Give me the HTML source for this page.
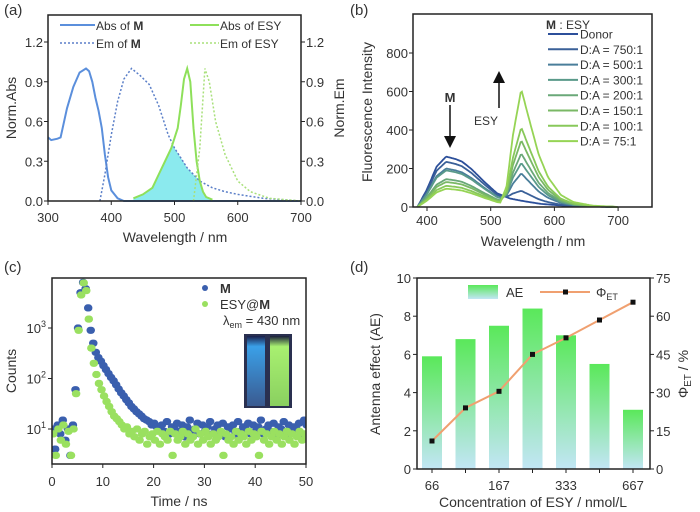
<!DOCTYPE html>
<html><head><meta charset="utf-8"><style>
html,body{margin:0;padding:0;background:#fff}
svg{display:block;font-family:"Liberation Sans",Arial,sans-serif}
text{fill:#333}
</style></head><body>
<svg id="fig" width="700" height="512" viewBox="0 0 700 512" xmlns="http://www.w3.org/2000/svg">
<defs>
<linearGradient id="barg" x1="0" y1="0" x2="0" y2="1"><stop offset="0" stop-color="#5ae85a"/><stop offset="1" stop-color="#c2e6f5"/></linearGradient>
<linearGradient id="vialB" x1="0" y1="0" x2="0" y2="1"><stop offset="0" stop-color="#1a1e4a"/><stop offset="0.15" stop-color="#3aa0e8"/><stop offset="1" stop-color="#3a5a90"/></linearGradient>
<linearGradient id="vialG" x1="0" y1="0" x2="0" y2="1"><stop offset="0" stop-color="#1a1e3a"/><stop offset="0.15" stop-color="#a8f070"/><stop offset="1" stop-color="#8ad060"/></linearGradient>
<clipPath id="clipC"><rect x="52" y="278" width="254" height="186"/></clipPath>
</defs>
<text x="4" y="15" font-size="15">(a)</text>
<text x="350" y="15" font-size="15">(b)</text>
<text x="4" y="272" font-size="15">(c)</text>
<text x="350" y="272" font-size="15">(d)</text>
<g id="layer"></g>
<rect x="48" y="15" width="253" height="186" fill="none" stroke="#222" stroke-width="1.5"/>
<rect x="413" y="14" width="239" height="193" fill="none" stroke="#222" stroke-width="1.5"/>
<rect x="52" y="278" width="254" height="186" fill="none" stroke="#222" stroke-width="1.5"/>
<rect x="417" y="278" width="233" height="191" fill="none" stroke="#222" stroke-width="1.5"/>
<text x="175" y="242" font-size="14" text-anchor="middle">Wavelength / nm</text>
<text transform="translate(16,108) rotate(-90)" font-size="14" text-anchor="middle">Norm.Abs</text>
<text transform="translate(344,108) rotate(-90)" font-size="14" text-anchor="middle">Norm.Em</text>
<text x="533" y="246" font-size="14" text-anchor="middle">Wavelength / nm</text>
<text transform="translate(372,112) rotate(-90)" font-size="14" text-anchor="middle">Fluorescence Intensity</text>
<text x="179" y="506" font-size="14" text-anchor="middle">Time / ns</text>
<text transform="translate(16,371) rotate(-90)" font-size="14" text-anchor="middle">Counts</text>
<text x="533" y="507" font-size="14" text-anchor="middle">Concentration of ESY / nmol/L</text>
<text transform="translate(380,374) rotate(-90)" font-size="14" text-anchor="middle">Antenna effect (AE)</text>
<text transform="translate(688,374) rotate(-90)" font-size="14" text-anchor="middle">Φ<tspan font-size="10" dy="3">ET</tspan><tspan dy="-3"> / %</tspan></text>
<g>
<line x1="60" y1="25" x2="95" y2="25" stroke="#5b8fdc" stroke-width="2"/><text x="96" y="30" font-size="12">Abs of <tspan font-weight="bold">M</tspan></text>
<line x1="60" y1="43" x2="95" y2="43" stroke="#5b7fc8" stroke-width="1.5" stroke-dasharray="2,2"/><text x="96" y="48" font-size="12">Em of <tspan font-weight="bold">M</tspan></text>
<line x1="190" y1="25" x2="219" y2="25" stroke="#8ee05a" stroke-width="2"/><text x="220" y="30" font-size="12">Abs of ESY</text>
<line x1="190" y1="43" x2="219" y2="43" stroke="#a8e07a" stroke-width="1.5" stroke-dasharray="2,2"/><text x="220" y="48" font-size="12">Em of  ESY</text>
</g>
<text x="546" y="29" font-size="12"><tspan font-weight="bold">M</tspan> : ESY</text>
<text x="450" y="102" font-size="13" font-weight="bold" text-anchor="middle">M</text>
<line x1="450" y1="105" x2="450" y2="138" stroke="#111" stroke-width="1.5"/>
<polygon points="444,136 456,136 450,148" fill="#111"/>
<line x1="499" y1="108" x2="499" y2="80" stroke="#111" stroke-width="1.5"/>
<polygon points="493,83 505,83 499,71" fill="#111"/>
<text x="486" y="125" font-size="12" text-anchor="middle">ESY</text>
<g id="layerTop"></g>
<g>
<circle cx="205" cy="288" r="3" fill="#3a5fae"/><text x="220" y="293" font-size="13" font-weight="bold">M</text>
<circle cx="205" cy="304" r="3" fill="#9ae060"/><text x="220" y="309" font-size="13">ESY@<tspan font-weight="bold">M</tspan></text>
<text x="223" y="325" font-size="13">λ<tspan font-size="9" dy="3">em</tspan><tspan dy="-3"> = 430 nm</tspan></text>
</g>
<g>
<rect x="244" y="334" width="48" height="74" fill="#2a3050"/>
<rect x="247" y="336" width="18" height="70" fill="url(#vialB)"/>
<rect x="270" y="336" width="19" height="70" fill="url(#vialG)"/>
</g>
<g>
<rect x="468" y="285" width="30" height="14" fill="url(#barg)"/><text x="506" y="297" font-size="13">AE</text>
<line x1="540" y1="292" x2="590" y2="292" stroke="#f0a070" stroke-width="2"/><rect x="563" y="289.5" width="5" height="5" fill="#111"/>
<text x="596" y="297" font-size="13">Φ<tspan font-size="9" dy="3">ET</tspan></text>
</g>
</svg>
<script>
const NS='http://www.w3.org/2000/svg';
const layer=document.getElementById('layer');
function mk(tag,attrs,parent){const e=document.createElementNS(NS,tag);for(const k in attrs)e.setAttribute(k,attrs[k]);(parent||layer).appendChild(e);return e;}

// ---------- Panel (a) data ----------
const absM_w=[300,305,315,320,330,340,350,360,365,370,375,380,385,390,395,400,410,420,700];
const absM_v=[0.48,0.46,0.47,0.48,0.7,0.86,0.97,1.0,0.98,0.9,0.78,0.68,0.55,0.35,0.18,0.08,0.02,0.0,0.0];
const emM_w=[382,390,400,410,420,432,445,460,475,490,500,520,540,560,580,600,640,700];
const emM_v=[0,0.2,0.5,0.75,0.92,1.0,0.95,0.88,0.72,0.5,0.4,0.25,0.15,0.1,0.07,0.05,0.02,0];
const absE_w=[435,450,465,475,485,495,505,510,515,520,525,530,535,540,545,550,560];
const absE_v=[0.02,0.05,0.1,0.2,0.3,0.4,0.55,0.72,0.92,1.0,0.9,0.55,0.3,0.15,0.07,0.03,0.01];
const emE_w=[530,540,548,555,565,580,600,620,650,700];
const emE_v=[0,0.4,1.0,0.9,0.6,0.35,0.15,0.07,0.02,0];
const xTicksA=[300,400,500,600,700];
const yTicksA=[0,0.3,0.6,0.9,1.2];
const xA=w=>48+(w-300)*253/400, yA=v=>201-v*159/1.2;
function interp(ws,vs,w){if(w<ws[0]||w>ws[ws.length-1])return 0;for(let i=1;i<ws.length;i++)if(w<=ws[i]){const t=(w-ws[i-1])/(ws[i]-ws[i-1]);return vs[i-1]+t*(vs[i]-vs[i-1]);}return 0;}
let fd='M'+xA(435)+','+yA(0);
for(let w=435;w<=560;w+=1){fd+=' L'+xA(w).toFixed(1)+','+yA(Math.min(interp(emM_w,emM_v,w),interp(absE_w,absE_v,w))).toFixed(1);}
fd+=' L'+xA(560)+','+yA(0)+'Z';
const ov=mk('path',{d:fd,fill:'#7ee8ec',opacity:'0.9'});


function pathOf(ws,vs,fx,fy){return ws.map((w,i)=>(i?'L':'M')+fx(w).toFixed(1)+','+fy(vs[i]).toFixed(1)).join(' ');}
const la1=mk('path',{d:pathOf(absM_w,absM_v,xA,yA),fill:'none',stroke:'#5b8fdc','stroke-width':2});


const la2=mk('path',{d:pathOf(emM_w,emM_v,xA,yA),fill:'none',stroke:'#5b7fc8','stroke-width':1.5,'stroke-dasharray':'2,2'});


const la3=mk('path',{d:pathOf(absE_w,absE_v,xA,yA),fill:'none',stroke:'#8ee05a','stroke-width':2});


const la4=mk('path',{d:pathOf(emE_w,emE_v,xA,yA),fill:'none',stroke:'#a8e07a','stroke-width':1.5,'stroke-dasharray':'2,2'});


xTicksA.forEach(t=>{const tx=mk('text',{x:xA(t),y:222,'font-size':13,'text-anchor':'middle'});tx.textContent=t;


mk('line',{x1:xA(t),y1:201,x2:xA(t),y2:205,stroke:'#222'});});
yTicksA.forEach(t=>{const tx=mk('text',{x:43,y:yA(t)+5,'font-size':13,'text-anchor':'end'});tx.textContent=t.toFixed(1);


const t2=mk('text',{x:306,y:yA(t)+5,'font-size':13});t2.textContent=t.toFixed(1);


mk('line',{x1:44,y1:yA(t),x2:48,y2:yA(t),stroke:'#222'});mk('line',{x1:301,y1:yA(t),x2:305,y2:yA(t),stroke:'#222'});});

// ---------- Panel (b) data ----------
const seriesB=['Donor','D:A = 750:1','D:A = 500:1','D:A = 300:1','D:A = 200:1','D:A = 150:1','D:A = 100:1','D:A = 75:1'];
const donorPeakB=[262,235,200,190,145,130,110,95];
const acceptorPeakB=[0,55,150,205,260,330,400,600];
const donorShape_w=[385,400,415,430,445,455,470,490,510,530,550,580,620,700];
const donorShape_v=[0,0.35,0.8,1.0,0.95,0.9,0.75,0.5,0.27,0.17,0.12,0.06,0.02,0];
const accShape_w=[515,525,535,548,560,575,590,610,630,660,700];
const accShape_v=[0,0.15,0.6,1.0,0.75,0.45,0.25,0.1,0.04,0.01,0];
const colorsB=['#2c4f9a','#3a6098','#4a7e9a','#5a9a8a','#6aa878','#7ab865','#88c85a','#96d455'];
const xTicksB=[400,500,600,700];
const yTicksB=[0,200,400,600,800];
const xB=w=>427+(w-400)*0.637, yB=v=>207-v*154/800;
seriesB.forEach((name,i)=>{
  let d='';
  for(let w=385;w<=700;w+=2){const v=donorPeakB[i]*interp(donorShape_w,donorShape_v,w)+acceptorPeakB[i]*interp(accShape_w,accShape_v,w);d+=(d?'L':'M')+xB(w).toFixed(1)+','+yB(v).toFixed(1)+' ';}
  const p=mk('path',{d:d,fill:'none',stroke:colorsB[i],'stroke-width':1.8});
  
  
  const yy=34+i*15.3;
  const l=mk('line',{x1:548,y1:yy,x2:578,y2:yy,stroke:colorsB[i],'stroke-width':2});
  
  
  const t=mk('text',{x:580,y:yy+4.5,'font-size':12});t.textContent=name;
  
  
});
xTicksB.forEach(t=>{const tx=mk('text',{x:xB(t),y:225,'font-size':13,'text-anchor':'middle'});tx.textContent=t;


mk('line',{x1:xB(t),y1:207,x2:xB(t),y2:211,stroke:'#222'});});
yTicksB.forEach(t=>{const tx=mk('text',{x:408,y:yB(t)+5,'font-size':13,'text-anchor':'end'});tx.textContent=t;


mk('line',{x1:409,y1:yB(t),x2:413,y2:yB(t),stroke:'#222'});});

// ---------- Panel (c) data (t step 0.5 ns) ----------
const countsM=[10,4,12,8,15,6,10,3,12,60,1000,5000,8000,6000,2500,900,500,330,260,220,180,150,125,105,90,75,62,52,45,38,33,28,25,22,20,18,16,15,14,12,13,11,10,12,9,14,8,11,10,13,9,12,7,11,15,9,10,13,8,12,9,11,14,8,10,12,9,13,7,11,10,12,8,14,9,11,10,13,8,12,9,11,15,8,10,12,9,13,7,11,10,14,8,12,9,11,10,13,8,15,12];
const countsE=[8,3,10,6,12,5,9,3,10,50,900,4500,7800,5500,1500,400,200,120,80,60,45,35,28,22,18,16,14,12,10,11,8,9,7,10,6,8,9,5,7,8,6,9,5,8,7,6,9,3,8,6,7,9,5,8,6,7,10,5,8,6,9,7,5,8,6,7,9,3,8,6,7,5,9,6,8,7,5,9,6,8,7,3,9,6,8,5,7,9,6,8,5,7,9,6,8,5,7,9,6,8,7];
const xTicksC=[0,10,20,30,40,50];
const yTicksC=[1,2,3];
const xC=t=>52+t*5.08, yC=c=>429-(Math.log10(c)-1)*50.5;
const gC=mk('g',{'clip-path':'url(#clipC)'});


countsM.forEach((c,i)=>{[0,0.25].forEach(o=>{const ci=mk('circle',{cx:xC(i*0.5+o),cy:yC(c),r:3.6,fill:'#3a5fae'},gC);

});});
countsE.forEach((c,i)=>{[0.12,0.37].forEach(o=>{const ci=mk('circle',{cx:xC(i*0.5+o),cy:yC(c),r:3.6,fill:'#9ae060'},gC);

});});
xTicksC.forEach(t=>{const tx=mk('text',{x:xC(t),y:486,'font-size':13,'text-anchor':'middle'});tx.textContent=t;


mk('line',{x1:xC(t),y1:464,x2:xC(t),y2:468,stroke:'#222'});});
yTicksC.forEach(e=>{const tx=mk('text',{x:46,y:yC(Math.pow(10,e))+5,'font-size':13,'text-anchor':'end'});
const ts1=mk('tspan',{},tx);ts1.textContent='10';const ts2=mk('tspan',{'font-size':9,dy:-6},tx);ts2.textContent=e;


mk('line',{x1:48,y1:yC(Math.pow(10,e)),x2:52,y2:yC(Math.pow(10,e)),stroke:'#222'});});

// ---------- Panel (d) data ----------
const catsD=['66','','167','','333','','667'];
const aeD=[5.9,6.8,7.5,8.4,7.0,5.5,3.1];
const phiD=[11,24,30.5,45,51.5,58.5,65.5];
const yTicksD=[0,2,4,6,8,10];
const yTicksD2=[0,15,30,45,60,75];
const xD=i=>432+i*33.5, yD=v=>469-v*19.1, yD2=p=>469-p*191/75;
aeD.forEach((v,i)=>{const r=mk('rect',{x:xD(i)-10,y:yD(v),width:20,height:469-yD(v),fill:'url(#barg)'});

});
const pl=mk('polyline',{points:phiD.map((p,i)=>xD(i)+','+yD2(p)).join(' '),fill:'none',stroke:'#f0a070','stroke-width':2});


phiD.forEach((p,i)=>{const m=mk('rect',{x:xD(i)-2.5,y:yD2(p)-2.5,width:5,height:5,fill:'#111'});

});
catsD.forEach((c,i)=>{mk('line',{x1:xD(i),y1:469,x2:xD(i),y2:473,stroke:'#222'});if(!c)return;const tx=mk('text',{x:xD(i),y:490,'font-size':13,'text-anchor':'middle'});tx.textContent=c;

});
yTicksD.forEach(t=>{const tx=mk('text',{x:411,y:yD(t)+5,'font-size':13,'text-anchor':'end'});tx.textContent=t;


mk('line',{x1:413,y1:yD(t),x2:417,y2:yD(t),stroke:'#222'});});
yTicksD2.forEach(t=>{const tx=mk('text',{x:656,y:yD2(t)+5,'font-size':13});tx.textContent=t;


mk('line',{x1:650,y1:yD2(t),x2:654,y2:yD2(t),stroke:'#222'});});
</script>
</body></html>
